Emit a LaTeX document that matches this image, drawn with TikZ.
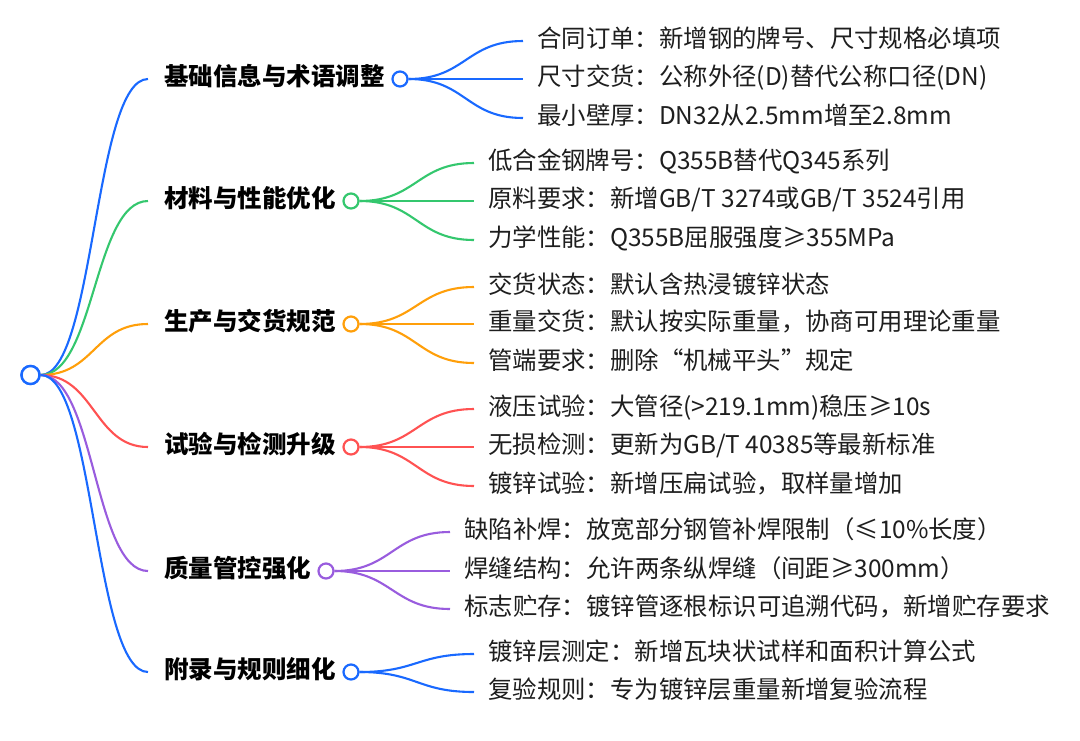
\documentclass[tikz,border=0pt]{standalone}
\usepackage{fontspec}
\newfontfamily\cjk{Noto Sans CJK SC}
\definecolor{cblue}{RGB}{25,105,255}
\definecolor{cgreen}{RGB}{52,199,110}
\definecolor{corange}{RGB}{255,159,10}
\definecolor{cred}{RGB}{255,82,82}
\definecolor{cpurple}{RGB}{153,92,222}
\definecolor{leaftext}{RGB}{30,30,30}
\tikzset{
  leaf/.style={anchor=west, inner xsep=14pt, inner ysep=0pt, text height=1.3em, text depth=0.07em,
    font=\cjk\fontsize{24.4}{29}\selectfont, text=leaftext},
  glabel/.style={anchor=west, inner xsep=16pt, inner ysep=0pt, text height=1.3em, text depth=0.07em,
    font=\cjk\bfseries\fontsize{24.5}{29}\selectfont, text=black},
  gdot/.style={circle, draw, line width=2.2pt, fill=white, minimum size=15pt, inner sep=0pt},
  rootdot/.style={circle, draw=cblue, line width=2.4pt, fill=white, minimum size=18pt, inner sep=0pt},
  link/.style={line width=2.1pt},
}
\begin{document}
\begin{tikzpicture}[x=1pt,y=1pt]
\fill[white] (0,0) rectangle (1080,-740);
\useasboundingbox (0,0) rectangle (1080,-740);

% root
\node[rootdot] (root) at (30.5,-375) {};

% group labels
\node[glabel] (g1) at (148,-79) {基础信息与术语调整};
\node[glabel] (g2) at (148,-201) {材料与性能优化};
\node[glabel] (g3) at (148,-324) {生产与交货规范};
\node[glabel] (g4) at (148,-447) {试验与检测升级};
\node[glabel] (g5) at (148,-571) {质量管控强化};
\node[glabel] (g6) at (148,-672) {附录与规则细化};

% group dots
\node[gdot, draw=cblue] (c1) at (400,-79) {};
\node[gdot, draw=cgreen] (c2) at (351,-201) {};
\node[gdot, draw=corange] (c3) at (351,-324) {};
\node[gdot, draw=cred] (c4) at (351,-447) {};
\node[gdot, draw=cpurple] (c5) at (326,-571) {};
\node[gdot, draw=cblue] (c6) at (351,-672) {};

% leaves
\node[leaf] (l11) at (523,-41) {合同订单：新增钢的牌号、尺寸规格必填项};
\node[leaf] (l12) at (523,-79) {尺寸交货：公称外径(D)替代公称口径(DN)};
\node[leaf] (l13) at (523,-118) {最小壁厚：DN32从2.5mm增至2.8mm};

\node[leaf] (l21) at (474,-163) {低合金钢牌号：Q355B替代Q345系列};
\node[leaf] (l22) at (474,-201) {原料要求：新增GB/T 3274或GB/T 3524引用};
\node[leaf] (l23) at (474,-240) {力学性能：Q355B屈服强度≥355MPa};

\node[leaf] (l31) at (474,-287) {交货状态：默认含热浸镀锌状态};
\node[leaf] (l32) at (474,-324) {重量交货：默认按实际重量，协商可用理论重量};
\node[leaf] (l33) at (474,-363) {管端要求：删除“机械平头”规定};

\node[leaf] (l41) at (474,-409) {液压试验：大管径(>219.1mm)稳压≥10s};
\node[leaf] (l42) at (474,-447) {无损检测：更新为GB/T 40385等最新标准};
\node[leaf] (l43) at (474,-486) {镀锌试验：新增压扁试验，取样量增加};

\node[leaf] (l51) at (450,-532) {缺陷补焊：放宽部分钢管补焊限制（≤10\%长度）};
\node[leaf] (l52) at (450,-571) {焊缝结构：允许两条纵焊缝（间距≥300mm）};
\node[leaf] (l53) at (450,-609) {标志贮存：镀锌管逐根标识可追溯代码，新增贮存要求};

\node[leaf] (l61) at (474,-654) {镀锌层测定：新增瓦块状试样和面积计算公式};
\node[leaf] (l62) at (474,-692) {复验规则：专为镀锌层重量新增复验流程};

% root links
\draw[link, cblue]   (root.east) .. controls +(54,0) and +(-54,0) .. (g1.west);
\draw[link, cgreen]  (root.east) .. controls +(54,0) and +(-54,0) .. (g2.west);
\draw[link, corange] (root.east) .. controls +(54,0) and +(-54,0) .. (g3.west);
\draw[link, cred]    (root.east) .. controls +(54,0) and +(-54,0) .. (g4.west);
\draw[link, cpurple] (root.east) .. controls +(54,0) and +(-54,0) .. (g5.west);
\draw[link, cblue]   (root.east) .. controls +(54,0) and +(-54,0) .. (g6.west);

% leaf links
\foreach \c/\l/\col in {c1/l11/cblue, c1/l12/cblue, c1/l13/cblue,
                       c2/l21/cgreen, c2/l22/cgreen, c2/l23/cgreen,
                       c3/l31/corange, c3/l32/corange, c3/l33/corange,
                       c4/l41/cred, c4/l42/cred, c4/l43/cred,
                       c5/l51/cpurple, c5/l52/cpurple, c5/l53/cpurple,
                       c6/l61/cblue, c6/l62/cblue}
  \draw[link, \col] (\c.east) .. controls +(57,0) and +(-57,0) .. (\l.west);

% redraw root dot on top
\node[rootdot] at (root) {};
\end{tikzpicture}
\end{document}
